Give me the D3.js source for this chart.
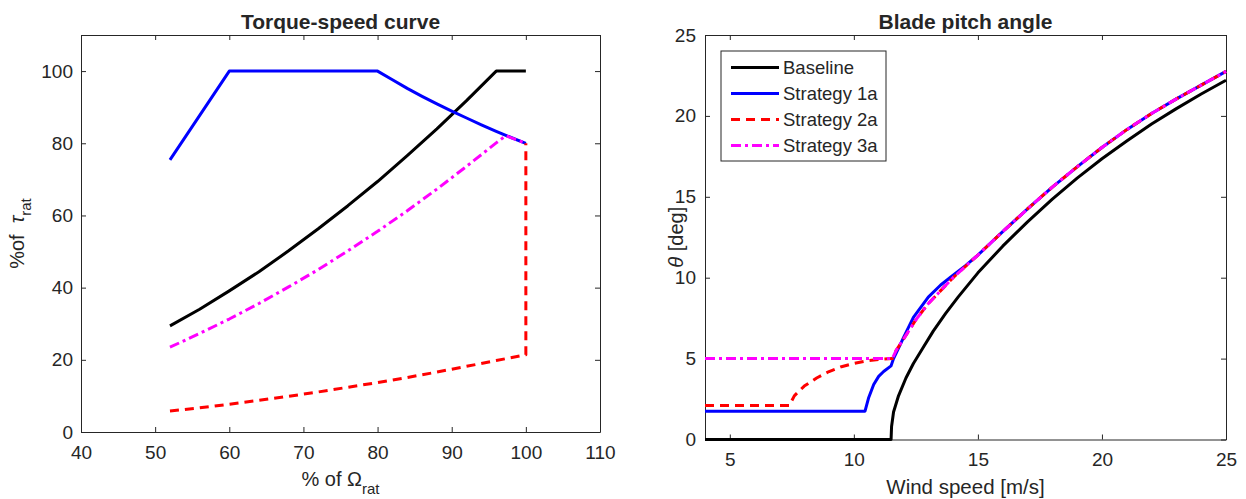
<!DOCTYPE html>
<html>
<head>
<meta charset="utf-8">
<script src="https://cdn.jsdelivr.net/npm/d3@7"></script>
<style>
  body { margin: 0; background: #fff; }
  text { font-family: "Liberation Sans", Arial, Helvetica, sans-serif; fill: #262626; }
</style>
</head>
<body>
<svg id="chart" width="1246" height="499"></svg>
<script>
// ---- left panel: torque-speed curve (% of rated speed vs % of rated torque)
const spdBaseline = [52, 56, 60, 64, 68, 72, 76, 80, 84, 88, 92, 96, 100];
const trqBaseline = [29.4, 34.0, 39.1, 44.4, 50.2, 56.3, 62.7, 69.4, 76.6, 84.0, 91.8, 100, 100];
const spd1a = [52, 60, 80, 82, 84, 86, 88, 90, 92, 94, 96, 98, 100];
const trq1a = [75.4, 100, 100, 97.6, 95.2, 93.0, 90.9, 88.9, 87.0, 85.1, 83.3, 81.6, 80];
const spd2a = [52, 56, 60, 64, 68, 72, 76, 80, 84, 88, 92, 96, 100, 100];
const trq2a = [5.8, 6.7, 7.7, 8.8, 9.9, 11.1, 12.4, 13.7, 15.1, 16.6, 18.2, 19.8, 21.4, 80];
const spd3a = [52, 56, 60, 64, 68, 72, 76, 80, 84, 88, 92, 96, 97.3, 100];
const trq3a = [23.5, 27.3, 31.3, 35.6, 40.2, 45.0, 50.2, 55.6, 61.3, 67.3, 73.6, 80.1, 82.1, 80];
const spdTicks = [40, 50, 60, 70, 80, 90, 100, 110];
const trqTicks = [0, 20, 40, 60, 80, 100, 110];

// ---- right panel: blade pitch angle vs wind speed
const windBaseline = [4, 11.5, 11.52, 11.6, 11.8, 12.1, 12.4, 12.8, 13.2, 13.7, 14.2, 15, 16, 17, 18, 19, 20, 21, 22, 23, 24, 25];
const pitchBaseline = [0, 0, 0.8, 1.7, 2.7, 3.8, 4.7, 5.7, 6.7, 7.8, 8.8, 10.3, 11.95, 13.45, 14.85, 16.15, 17.35, 18.45, 19.5, 20.45, 21.35, 22.2];
const wind1a = [4, 10.45, 10.6, 10.8, 11.0, 11.2, 11.5, 11.6, 11.85, 12.0, 12.4, 13.0, 13.5, 14.0, 14.5, 15, 16, 17, 18, 19, 20, 21, 22, 23, 24, 25];
const pitch1a = [1.75, 1.75, 2.6, 3.4, 3.9, 4.2, 4.55, 5.0, 5.8, 6.3, 7.55, 8.8, 9.55, 10.15, 10.75, 11.4, 12.85, 14.25, 15.6, 16.85, 18.05, 19.15, 20.15, 21.05, 21.9, 22.75];
const wind2a = [4, 7.4, 7.6, 8.0, 8.5, 9.0, 9.5, 10.0, 10.5, 11.0, 11.55, 11.7, 12.0, 12.5, 13.0, 13.5, 14.0, 14.5, 15, 16, 17, 18, 19, 20, 21, 22, 23, 24, 25];
const pitch2a = [2.1, 2.1, 2.7, 3.3, 3.8, 4.2, 4.5, 4.7, 4.85, 4.95, 5.0, 5.5, 6.2, 7.4, 8.4, 9.2, 10.0, 10.7, 11.4, 12.85, 14.25, 15.6, 16.85, 18.05, 19.15, 20.15, 21.05, 21.9, 22.75];
const wind3a = [4, 11.55, 11.7, 12.0, 12.5, 13.0, 13.5, 14.0, 14.5, 15, 16, 17, 18, 19, 20, 21, 22, 23, 24, 25];
const pitch3a = [5.0, 5.0, 5.5, 6.2, 7.4, 8.4, 9.2, 10.0, 10.7, 11.4, 12.85, 14.25, 15.6, 16.85, 18.05, 19.15, 20.15, 21.05, 21.9, 22.75];
const windTicks = [5, 10, 15, 20, 25];
const pitchTicks = [0, 5, 10, 15, 20, 25];

const seriesNames = ['Baseline', 'Strategy 1a', 'Strategy 2a', 'Strategy 3a'];
const seriesColors = ['#000000', '#0000ff', '#ff0000', '#ff00ff'];
const seriesDash = [null, null, '9,6', '10,4,3,4'];

const svg = d3.select('#chart');
const axisColor = '#262626';

function drawAxes(g, x, y, w, h, xTicks, yTicks, padX, padY) {
  const bottom = g.append('g')
    .attr('transform', `translate(0, ${h})`)
    .call(d3.axisBottom(x).tickValues(xTicks).tickSize(-5).tickSizeOuter(0).tickPadding(padX));
  const left = g.append('g')
    .call(d3.axisLeft(y).tickValues(yTicks).tickSize(-5).tickSizeOuter(0).tickPadding(padY)
      .tickFormat(d => d === 110 ? '' : d));
  g.append('g')
    .call(d3.axisTop(x).tickValues(xTicks).tickSize(-5).tickSizeOuter(0).tickFormat(''));
  g.append('g')
    .attr('transform', `translate(${w}, 0)`)
    .call(d3.axisRight(y).tickValues(yTicks).tickSize(-5).tickSizeOuter(0).tickFormat(''));

  g.selectAll('.domain, .tick line').attr('stroke', axisColor).attr('stroke-width', 1);
  [bottom, left].forEach(a => a.attr('font-family', null).attr('font-size', 19));
}

function drawLine(g, x, y, xs, ys, i, width) {
  const line = d3.line().x(d => x(d[0])).y(d => y(d[1]));
  g.append('path')
    .datum(d3.zip(xs, ys))
    .attr('fill', 'none')
    .attr('stroke', seriesColors[i])
    .attr('stroke-width', width)
    .attr('stroke-dasharray', seriesDash[i])
    .attr('stroke-linejoin', 'round')
    .attr('d', line);
}

// ================= left panel =================
const L = { left: 81, top: 35, width: 519, height: 397 };
const xL = d3.scaleLinear().domain([40, 110]).range([0, L.width]);
const yL = d3.scaleLinear().domain([0, 110]).range([L.height, 0]);
const gL = svg.append('g').attr('transform', `translate(${L.left}, ${L.top})`);

drawAxes(gL, xL, yL, L.width, L.height, spdTicks, trqTicks, 14, 8);
drawLine(gL, xL, yL, spdBaseline, trqBaseline, 0, 3);
drawLine(gL, xL, yL, spd1a, trq1a, 1, 3);
drawLine(gL, xL, yL, spd2a, trq2a, 2, 3);
drawLine(gL, xL, yL, spd3a, trq3a, 3, 3);

svg.append('text')
  .attr('x', L.left + L.width / 2).attr('y', 22).attr('dy', '0.35em')
  .attr('text-anchor', 'middle').attr('font-size', 21).attr('font-weight', 'bold')
  .text('Torque-speed curve');

const xLabL = svg.append('text')
  .attr('x', L.left + L.width / 2).attr('y', 486)
  .attr('text-anchor', 'middle').attr('font-size', 20);
xLabL.append('tspan').text('% of \u03A9');
xLabL.append('tspan').attr('dy', 8).attr('font-size', 15).text('rat');

const yLabL = svg.append('text')
  .attr('transform', `translate(24, ${L.top + L.height / 2}) rotate(-90)`)
  .attr('text-anchor', 'middle').attr('font-size', 20);
yLabL.append('tspan').text('%of\u00A0\u00A0');
yLabL.append('tspan').attr('font-style', 'italic').text('\u03C4');
yLabL.append('tspan').attr('dy', 7).attr('font-size', 15).text('rat');

// ================= right panel =================
const R = { left: 705, top: 35, width: 521, height: 404.5 };
const xR = d3.scaleLinear().domain([4, 25]).range([0, R.width]);
const yR = d3.scaleLinear().domain([0, 25]).range([R.height, 0]);
const gR = svg.append('g').attr('transform', `translate(${R.left}, ${R.top})`);

drawAxes(gR, xR, yR, R.width, R.height, windTicks, pitchTicks, 13.5, 9);
drawLine(gR, xR, yR, windBaseline, pitchBaseline, 0, 3);
drawLine(gR, xR, yR, wind1a, pitch1a, 1, 3);
drawLine(gR, xR, yR, wind2a, pitch2a, 2, 3);
drawLine(gR, xR, yR, wind3a, pitch3a, 3, 3);

svg.append('text')
  .attr('x', R.left + R.width / 2).attr('y', 22).attr('dy', '0.35em')
  .attr('text-anchor', 'middle').attr('font-size', 21).attr('font-weight', 'bold')
  .text('Blade pitch angle');

svg.append('text')
  .attr('x', R.left + R.width / 2).attr('y', 494)
  .attr('text-anchor', 'middle').attr('font-size', 20.5)
  .text('Wind speed [m/s]');

const yLabR = svg.append('text')
  .attr('transform', `translate(683, ${R.top + R.height / 2}) rotate(-90)`)
  .attr('text-anchor', 'middle').attr('font-size', 20);
yLabR.append('tspan').attr('font-style', 'italic').text('\u03B8');
yLabR.append('tspan').text(' [deg]');

// legend
const legend = gR.append('g').attr('transform', 'translate(16, 16)');
legend.append('rect')
  .attr('width', 165).attr('height', 110)
  .attr('fill', '#fff').attr('stroke', axisColor).attr('stroke-width', 1);
seriesNames.forEach((name, i) => {
  const row = legend.append('g').attr('transform', `translate(0, ${16.5 + i * 26})`);
  row.append('line')
    .attr('x1', 10).attr('x2', 58)
    .attr('stroke', seriesColors[i]).attr('stroke-width', 3)
    .attr('stroke-dasharray', seriesDash[i]);
  row.append('text')
    .attr('x', 62).attr('dy', '0.35em').attr('font-size', 18.5)
    .text(name);
});
</script>
</body>
</html>
